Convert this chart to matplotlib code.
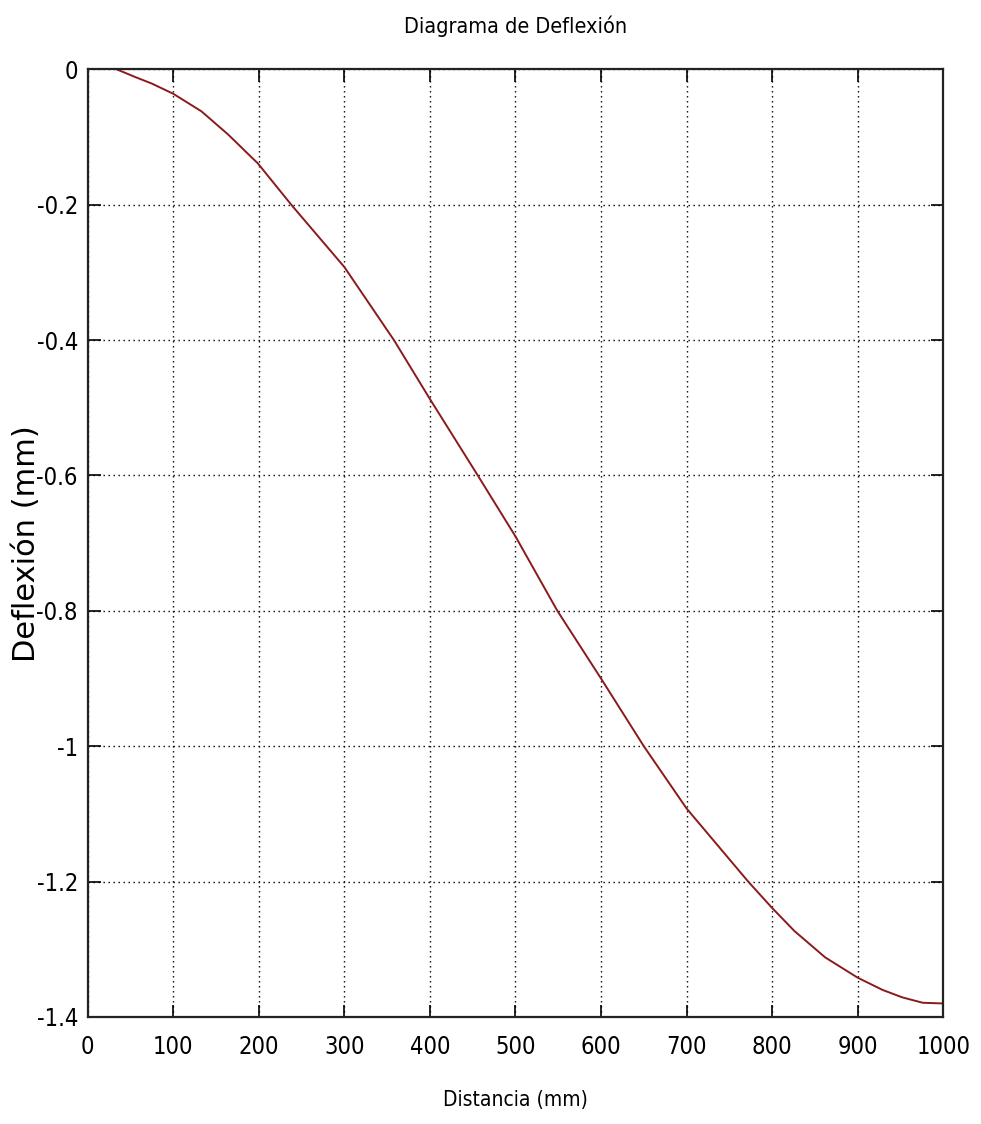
import matplotlib
matplotlib.use("Agg")
import matplotlib.pyplot as plt
from matplotlib import font_manager
from matplotlib.font_manager import FontProperties

# ---- data ----
distancia = [34, 55, 75, 100, 133, 164, 199, 238, 300, 358, 400, 456, 500,
             549, 600, 650, 700, 772, 800, 826, 862, 900, 929, 952, 976, 1000]
deflexion = [0.0, -0.011, -0.021, -0.036, -0.062, -0.096, -0.139, -0.2,
             -0.292, -0.4, -0.487, -0.6, -0.69, -0.8, -0.9, -1.0, -1.092,
             -1.2, -1.239, -1.273, -1.312, -1.342, -1.36, -1.371, -1.379, -1.38]
xticks = [0, 100, 200, 300, 400, 500, 600, 700, 800, 900, 1000]
yticks = [0, -0.2, -0.4, -0.6, -0.8, -1, -1.2, -1.4]
ytick_labels = ["0", "-0.2", "-0.4", "-0.6", "-0.8", "-1", "-1.2", "-1.4"]
xtick_labels = [str(v) for v in xticks]
title = "Diagrama de Deflexión"
xlabel = "Distancia (mm)"
ylabel = "Deflexión (mm)"

# pick a condensed face if one is installed
narrow_fp = None
for f in font_manager.fontManager.ttflist:
    nm = f.name
    st = str(f.stretch).lower()
    if ("Narrow" in nm or "Condensed" in nm or st in ("condensed", "semi-condensed",
                                                     "extra-condensed", "575", "500")) \
            and f.style == "normal" and str(f.weight) in ("400", "normal", "regular"):
        narrow_fp = f.fname
        if "Liberation" in nm or "DejaVu Sans" in nm:
            break

def fp(size):
    if narrow_fp:
        return FontProperties(fname=narrow_fp, size=size)
    return FontProperties(family="Liberation Sans", size=size)

tick_size = 17 if narrow_fp else 15

fig = plt.figure(figsize=(9.81, 11.24), dpi=100)
ax = fig.add_axes([0.0893, 0.0952, 0.9616 - 0.0893, 0.9383 - 0.0952])

ax.plot(distancia, deflexion, color="#8b1a1a", lw=1.4)

ax.set_xlim(0, 1000)
ax.set_ylim(-1.4, 0)
ax.set_xticks(xticks)
ax.set_xticklabels(xtick_labels, fontproperties=fp(tick_size))
ax.set_yticks(yticks)
ax.set_yticklabels(ytick_labels, fontproperties=fp(tick_size))
ax.tick_params(direction="in", length=9, width=1.2, top=True, right=True,
               color="black")
ax.tick_params(axis="x", pad=13)
ax.tick_params(axis="y", pad=7)
ax.grid(True, color="black", linestyle=(0, (1, 2.6)), lw=1.0)
for s in ax.spines.values():
    s.set_linewidth(1.6)
    s.set_color("#222222")

ax.set_title(title, fontproperties=fp(15.5), pad=26)
ax.set_xlabel(xlabel, fontproperties=fp(15), labelpad=22)
ax.set_ylabel(ylabel, fontfamily="DejaVu Sans", fontsize=22)
ax.yaxis.set_label_coords(-0.055, 0.5)

fig.savefig("out.png", dpi=100, facecolor="white")
